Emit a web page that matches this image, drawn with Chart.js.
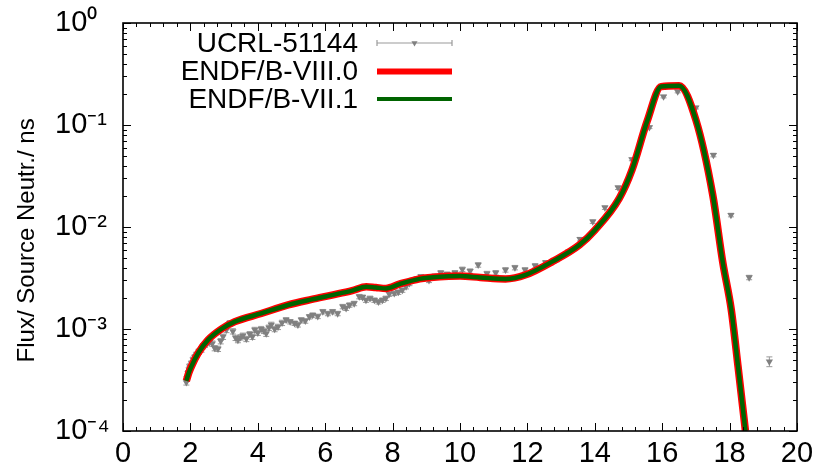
<!DOCTYPE html>
<html><head><meta charset="utf-8">
<script src="https://cdn.jsdelivr.net/npm/chart.js@4.4.1/dist/chart.umd.min.js"></script>
<style>html,body{margin:0;padding:0;background:#fff;}#wrap{width:821px;height:475px;}</style>
</head><body><div id="wrap"><canvas id="c" width="821" height="475"></canvas></div>
<script>
const seriesNames = ['UCRL-51144', 'ENDF/B-VIII.0', 'ENDF/B-VII.1'];
const yTitle = 'Flux/ Source Neutr./ ns';

const expX = [1.88,1.90,1.93,1.96,1.98,2.03,2.08,2.13,2.18,2.25,2.33,2.38,2.43,2.50,2.57,2.65,2.72,2.82,2.90,2.97,3.07,3.17,3.26,3.34,3.41,3.49,3.56,3.66,3.76,3.84,3.91,4.00,4.10,4.18,4.25,4.33,4.40,4.50,4.60,4.72,4.84,4.96,5.09,5.19,5.29,5.41,5.53,5.63,5.78,5.93,6.08,6.22,6.37,6.52,6.62,6.72,6.86,7.01,7.11,7.21,7.33,7.46,7.58,7.70,7.80,7.90,8.05,8.17,8.29,8.40,8.50,8.59,8.72,8.84,8.96,9.08,9.25,9.43,9.62,9.85,10.07,10.30,10.54,10.80,11.06,11.35,11.63,11.93,12.23,12.54,12.87,13.22,13.56,13.94,14.30,14.69,15.10,15.62,16.04,16.46,17.00,17.52,18.04,18.58,19.18];
const expY = [3.0e-4,3.3e-4,3.7e-4,4.0e-4,4.3e-4,4.6e-4,5.0e-4,5.3e-4,5.6e-4,6.0e-4,6.3e-4,6.8e-4,7.0e-4,7.3e-4,7.5e-4,7.2e-4,6.5e-4,6.4e-4,7.6e-4,8.4e-4,9.8e-4,1.14e-3,9.5e-4,8.2e-4,7.8e-4,8.3e-4,8.6e-4,8.0e-4,8.9e-4,8.4e-4,9.8e-4,9.2e-4,1.0e-3,9.6e-4,9.0e-4,1.03e-3,1.1e-3,1.0e-3,1.05e-3,1.15e-3,1.23e-3,1.18e-3,1.14e-3,1.1e-3,1.23e-3,1.2e-3,1.32e-3,1.37e-3,1.33e-3,1.48e-3,1.42e-3,1.48e-3,1.42e-3,1.66e-3,1.6e-3,1.72e-3,1.78e-3,2.08e-3,2.05e-3,1.92e-3,2.0e-3,1.92e-3,1.85e-3,1.92e-3,2.0e-3,2.2e-3,2.24e-3,2.3e-3,2.41e-3,2.6e-3,2.8e-3,3.0e-3,3.1e-3,3.26e-3,3.2e-3,3.0e-3,3.3e-3,3.56e-3,3.45e-3,3.56e-3,3.85e-3,3.7e-3,4.25e-3,3.5e-3,3.56e-3,3.8e-3,4.0e-3,3.8e-3,4.17e-3,4.47e-3,4.8e-3,5.7e-3,7.6e-3,0.0113,0.0155,0.0243,0.046,0.095,0.19,0.213,0.148,0.0508,0.0131,0.0032,4.8e-4];
const expErr = [0.06,0.06,0.06,0.06,0.06,0.06,0.06,0.06,0.06,0.06,0.06,0.06,0.06,0.06,0.06,0.06,0.06,0.06,0.06,0.06,0.06,0.06,0.06,0.06,0.06,0.06,0.06,0.06,0.06,0.06,0.06,0.06,0.06,0.06,0.06,0.06,0.06,0.06,0.06,0.06,0.05,0.05,0.05,0.05,0.05,0.05,0.05,0.05,0.05,0.05,0.05,0.05,0.05,0.05,0.05,0.05,0.05,0.05,0.05,0.05,0.05,0.05,0.05,0.05,0.05,0.05,0.05,0.05,0.05,0.05,0.05,0.05,0.05,0.05,0.05,0.05,0.05,0.05,0.05,0.05,0.05,0.05,0.05,0.05,0.05,0.05,0.05,0.05,0.05,0.05,0.05,0.04,0.04,0.04,0.04,0.04,0.03,0.03,0.03,0.03,0.03,0.04,0.04,0.05,0.11];

const endf8X = [1.88,1.95,2.03,2.23,2.52,2.92,3.32,4.10,4.90,5.60,6.20,6.80,7.22,7.50,7.80,8.20,8.80,9.40,10.00,10.60,11.35,11.95,12.75,13.55,14.00,14.73,15.10,15.55,15.97,16.50,17.00,17.50,17.80,18.05,18.25,18.47];
const endf8Y = [3.1e-4,3.7e-4,4.3e-4,5.8e-4,7.8e-4,1.0e-3,1.18e-3,1.42e-3,1.72e-3,1.95e-3,2.15e-3,2.38e-3,2.6e-3,2.55e-3,2.5e-3,2.75e-3,3.1e-3,3.26e-3,3.3e-3,3.2e-3,3.1e-3,3.4e-3,4.6e-3,6.7e-3,9.3e-3,0.0192,0.036,0.108,0.238,0.243,0.112,0.0206,0.00444,0.00154,4.3e-4,1.0e-4];
const endf7X = [1.88,1.95,2.03,2.23,2.52,2.92,3.32,4.10,4.90,5.60,6.20,6.80,7.22,7.50,7.80,8.20,8.80,9.40,10.00,10.60,11.35,11.95,12.75,13.55,14.00,14.73,15.10,15.55,15.97,16.50,17.00,17.50,17.80,18.05,18.25,18.47];
const endf7Y = [3.1e-4,3.7e-4,4.3e-4,5.8e-4,7.8e-4,1.0e-3,1.18e-3,1.42e-3,1.72e-3,1.95e-3,2.15e-3,2.38e-3,2.6e-3,2.55e-3,2.5e-3,2.75e-3,3.1e-3,3.26e-3,3.3e-3,3.2e-3,3.1e-3,3.4e-3,4.6e-3,6.7e-3,9.3e-3,0.0192,0.036,0.108,0.238,0.243,0.112,0.0206,0.00444,0.00154,4.3e-4,1.0e-4];

const xTicks = [0,2,4,6,8,10,12,14,16,18,20];
const xMinorTicks = [0.4,0.8,1.2,1.6,2.4,2.8,3.2,3.6,4.4,4.8,5.2,5.6,6.4,6.8,7.2,7.6,8.4,8.8,9.2,9.6,10.4,10.8,11.2,11.6,12.4,12.8,13.2,13.6,14.4,14.8,15.2,15.6,16.4,16.8,17.2,17.6,18.4,18.8,19.2,19.6];
const yTicks = [1e-4,1e-3,1e-2,1e-1,1];
const yTickLabels = ['10\u207B\u2074','10\u207B\u00B3','10\u207B\u00B2','10\u207B\u00B9','10\u2070'];
const yMinorMantissas = [2,3,4,5,6,7,8,9];

const FONT = "'Liberation Sans', Arial, Helvetica, sans-serif";
const GRAY = '#808080';

const pts = (xs, ys) => xs.map((v, i) => ({x: v, y: ys[i]}));

const errorBars = {
  id: 'errorBars',
  beforeDatasetsDraw(chart) {
    const {ctx, chartArea: a, scales: {x, y}} = chart;
    ctx.save();
    ctx.beginPath(); ctx.rect(a.left, a.top, a.right - a.left, a.bottom - a.top); ctx.clip();
    ctx.strokeStyle = '#9a9a9a'; ctx.lineWidth = 1;
    ctx.beginPath();
    expX.forEach((xv, i) => {
      const px = x.getPixelForValue(xv);
      const lo = y.getPixelForValue(expY[i] * (1 - expErr[i]));
      const hi = y.getPixelForValue(expY[i] * (1 + expErr[i]));
      ctx.moveTo(px, lo); ctx.lineTo(px, hi);
      ctx.moveTo(px - 3, lo); ctx.lineTo(px + 3, lo);
      ctx.moveTo(px - 3, hi); ctx.lineTo(px + 3, hi);
    });
    ctx.stroke();
    ctx.restore();
  }
};

const frame = {
  id: 'frame',
  afterDatasetsDraw(chart) {
    const {ctx, chartArea: a, scales: {x, y}} = chart;
    ctx.save();
    ctx.strokeStyle = '#000';
    ctx.lineWidth = 1;
    ctx.beginPath();
    const vt = (v, len) => { const p = Math.round(x.getPixelForValue(v)) + 0.5;
      ctx.moveTo(p, a.bottom); ctx.lineTo(p, a.bottom - len);
      ctx.moveTo(p, a.top); ctx.lineTo(p, a.top + len); };
    const ht = (v, len) => { const p = Math.round(y.getPixelForValue(v)) + 0.5;
      ctx.moveTo(a.left, p); ctx.lineTo(a.left + len, p);
      ctx.moveTo(a.right, p); ctx.lineTo(a.right - len, p); };
    xTicks.forEach(v => vt(v, 8));
    xMinorTicks.forEach(v => vt(v, 4));
    yTicks.forEach(v => ht(v, 8));
    yTicks.slice(0, -1).forEach(d => yMinorMantissas.forEach(m => ht(d * m, 4)));
    ctx.stroke();
    ctx.lineWidth = 1.6;
    ctx.strokeRect(a.left, a.top, a.right - a.left, a.bottom - a.top);
    ctx.restore();
  }
};

const keyBox = {
  id: 'keyBox',
  afterDraw(chart) {
    const {ctx} = chart;
    ctx.save();
    ctx.font = '28px ' + FONT;
    ctx.fillStyle = '#000';
    ctx.textAlign = 'right';
    ctx.textBaseline = 'middle';
    const rows = [43, 71.5, 99];
    const tx = 358, x0 = 377, x1 = 452;
    seriesNames.forEach((n, i) => ctx.fillText(n, tx, rows[i] + 1));
    // errorbar sample
    ctx.strokeStyle = '#9a9a9a'; ctx.lineWidth = 1.2;
    ctx.beginPath();
    ctx.moveTo(x0, rows[0]); ctx.lineTo(x1, rows[0]);
    ctx.moveTo(x0, rows[0] - 3); ctx.lineTo(x0, rows[0] + 3);
    ctx.moveTo(x1, rows[0] - 3); ctx.lineTo(x1, rows[0] + 3);
    ctx.stroke();
    ctx.fillStyle = GRAY;
    const cx = (x0 + x1) / 2, r = 3.5;
    ctx.beginPath();
    ctx.moveTo(cx - r * 0.87, rows[0] - r * 0.5);
    ctx.lineTo(cx + r * 0.87, rows[0] - r * 0.5);
    ctx.lineTo(cx, rows[0] + r);
    ctx.closePath(); ctx.fill();
    ctx.lineCap = 'butt';
    ctx.strokeStyle = '#ff0000'; ctx.lineWidth = 6;
    ctx.beginPath(); ctx.moveTo(x0, rows[1]); ctx.lineTo(x1, rows[1]); ctx.stroke();
    ctx.strokeStyle = '#006400'; ctx.lineWidth = 4;
    ctx.beginPath(); ctx.moveTo(x0, rows[2]); ctx.lineTo(x1, rows[2]); ctx.stroke();
    ctx.restore();
  }
};

new Chart(document.getElementById('c'), {
  type: 'scatter',
  data: {
    datasets: [
      {label: seriesNames[2], data: pts(endf7X, endf7Y), showLine: true, borderColor: '#006400', borderWidth: 4.5, pointRadius: 0, cubicInterpolationMode: 'monotone', order: 0},
      {label: seriesNames[1], data: pts(endf8X, endf8Y), showLine: true, borderColor: '#ff0000', borderWidth: 7.5, pointRadius: 0, cubicInterpolationMode: 'monotone', order: 1},
      {label: seriesNames[0], data: pts(expX, expY), showLine: false, pointStyle: 'triangle', rotation: 180, pointRadius: 4.2, backgroundColor: GRAY, borderColor: GRAY, borderWidth: 0, order: 2}
    ]
  },
  options: {
    responsive: false,
    animation: false,
    devicePixelRatio: 1,
    layout: {padding: {left: 55, right: 24, top: 23, bottom: 0}},
    plugins: {legend: {display: false}, tooltip: {enabled: false}},
    scales: {
      x: {
        type: 'linear', min: 0, max: 20,
        afterBuildTicks: s => { s.ticks = xTicks.map(v => ({value: v})); },
        afterFit: s => { s.height = 44; },
        grid: {display: false, drawTicks: false},
        border: {display: false},
        ticks: {padding: 6, color: '#000', font: {family: FONT, size: 29}, maxRotation: 0, autoSkip: false, callback: v => String(v)}
      },
      y: {
        type: 'logarithmic', min: 1e-4, max: 1,
        afterBuildTicks: s => { s.ticks = yTicks.map(v => ({value: v})); },
        afterFit: s => { s.width = 68; },
        grid: {display: false, drawTicks: false},
        border: {display: false},
        ticks: {crossAlign: 'far', color: '#000', font: {family: FONT, size: 29}, autoSkip: false,
          callback: v => { const i = yTicks.findIndex(t => Math.abs(Math.log10(t) - Math.log10(v)) < 1e-6); return i >= 0 ? yTickLabels[i] : ''; }},
        title: {display: true, text: yTitle + '    ', color: '#000', font: {family: FONT, size: 24}, padding: {top: -42}}
      }
    }
  },
  plugins: [errorBars, frame, keyBox]
});
</script>
</body></html>
